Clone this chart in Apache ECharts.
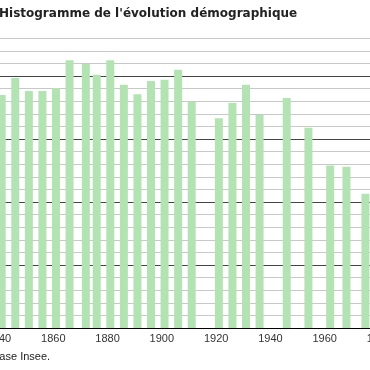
<!DOCTYPE html>
<html><head><meta charset="utf-8">
<script src="https://cdn.jsdelivr.net/npm/echarts@6/dist/echarts.min.js"></script>
<style>html,body{margin:0;padding:0;background:#fff}#c{width:370px;height:370px}</style>
</head><body><div id="c"></div>
<script>
var titleText = "Histogramme de l'évolution démographique";
var sourceText = "Base Insee.";
var years = [1841,1846,1851,1856,1861,1866,1872,1876,1881,1886,1891,1896,1901,1906,1911,1921,1926,1931,1936,1946,1954,1962,1968,1975];
var population = [370,397,376,376,381,425,419,402,425,386,371,392,394,410,359,333,357,386,338,365,318,258,256,213];
var xTicks = [1840,1860,1880,1900,1920,1940,1960,1980];

var chart = echarts.init(document.getElementById('c'), null, {renderer:'canvas'});
chart.setOption({
  animation:false,
  backgroundColor:'#fff',
  grid:{left:-1, right:-9, top:38.2, bottom:42, outerBoundsMode:'none', containLabel:false},
  xAxis:{type:'value', min:xTicks[0], max:xTicks[xTicks.length-1], interval:20,
    axisLine:{show:true, lineStyle:{color:'#000', width:1}},
    axisTick:{show:false}, splitLine:{show:false},
    axisLabel:{color:'#333', fontFamily:'Liberation Sans, Arial', fontSize:11, margin:5,
      hideOverlap:false, showMinLabel:true, showMaxLabel:true,
      formatter:function(v){return String(v);}}},
  yAxis:{type:'value', min:0, max:460, interval:20,
    axisLine:{show:false}, axisTick:{show:false}, axisLabel:{show:false},
    splitLine:{show:true, lineStyle:{color:['#444','#c8c8c8','#c8c8c8','#c8c8c8','#c8c8c8'], width:1}}},
  series:[{type:'bar', barWidth:8, itemStyle:{color:'#b3e3b3'},
    data: years.map(function(y,i){return [y, population[i]];})}],
  graphic:[
    {type:'text', left:-1, top:8, style:{text:titleText, fill:'#222', font:'bold 12px "DejaVu Sans"'}},
    {type:'text', left:-8, top:351, style:{text:sourceText, fill:'#222', font:'11px "Liberation Sans"'}}
  ]
});
</script></body></html>
